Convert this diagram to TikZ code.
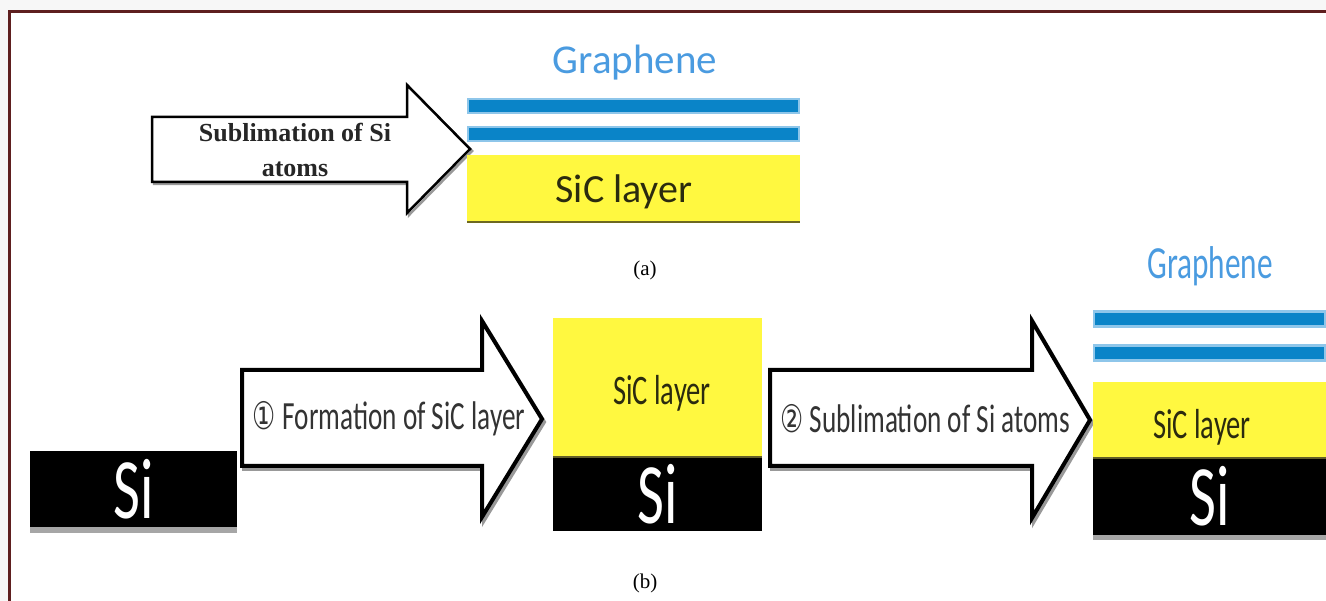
\documentclass[tikz,border=0pt]{standalone}
\usepackage{fontspec}
\setmainfont{Liberation Serif}
\newfontfamily\carlitofont{Carlito}
\newfontfamily\carlitocond[FakeStretch=0.68]{Carlito}
\newfontfamily\dejacond[FakeStretch=0.68]{DejaVu Sans}
\definecolor{frame}{HTML}{5E1F1F}
\definecolor{bluebar}{HTML}{0A84C8}
\definecolor{blueedge}{HTML}{8EC6EA}
\definecolor{bluetext}{HTML}{4A9BE0}
\definecolor{sicyellow}{HTML}{FFF840}
\definecolor{sictext}{HTML}{2B2B0F}
\definecolor{arrtext}{HTML}{333333}
\begin{document}
\begin{tikzpicture}[x=1pt,y=-1pt,
  layer/.style={inner sep=0pt, outer sep=0pt, anchor=center},
  sic/.style={layer, fill=sicyellow, text=sictext},
  sibox/.style={layer, fill=black, text=white},
  bar/.style={layer, fill=bluebar, draw=blueedge, line width=2.5pt},
  blockarrow/.style={draw=black, fill=white, line join=miter},
  arrshadow/.style={draw=black!40, line join=miter},
  lbl/.style={inner sep=0pt, align=center}]
\useasboundingbox (0,0) rectangle (1326,601);
\fill[black!3] (0,0) rectangle (1326,601);
\fill[white] (9.5,11.5) rectangle (1326,601);
\draw[frame, line width=3pt] (1330,11.5) -- (9.5,11.5) -- (9.5,605);

% ---------- (a) ----------
\draw[arrshadow, line width=2.5pt, shift={(2,2)}] (152,117) -- (407,117) -- (407,85) -- (470,149) -- (407,213) -- (407,182) -- (152,182) -- cycle;
\draw[blockarrow, line width=2.5pt] (152,117) -- (407,117) -- (407,85) -- (470,149) -- (407,213) -- (407,182) -- (152,182) -- cycle;
\node[lbl, text=black!85, font=\bfseries\fontsize{26}{35}\selectfont] (txtA) at (295,150) {Sublimation of Si\\atoms};

\node[lbl, text=bluetext, font=\carlitofont\fontsize{41}{41}\selectfont] (grA) at (635,63) {Graphene};
\node[bar, minimum width=331pt, minimum height=14pt] (barA1) at (633.5,106) {};
\node[bar, minimum width=331pt, minimum height=14pt] (barA2) at (633.5,134) {};
\node[sic, minimum width=333pt, minimum height=67pt] (sicA) at (633.5,188.5) {};
\node[lbl, text=sictext, font=\carlitofont\fontsize{40}{40}\selectfont] (sicAtxt) at (624,192) {SiC layer};
\draw[olive!70!black, line width=1.5pt] (sicA.south west) -- (sicA.south east);
\node[lbl, font=\fontsize{21}{21}\selectfont] (capA) at (645,270) {(a)};

% ---------- (b) ----------
\fill[black!35] (30,527) rectangle (237,533);
\node[sibox, minimum width=207pt, minimum height=76pt, font=\carlitocond\fontsize{86}{86}\selectfont] (si1) at (133.5,489) {Si};

\draw[arrshadow, line width=4pt, shift={(2,3)}] (242,370) -- (482,370) -- (482,321) -- (542,419) -- (482,517) -- (482,466) -- (242,466) -- cycle;
\draw[blockarrow, line width=4pt] (242,370) -- (482,370) -- (482,321) -- (542,419) -- (482,517) -- (482,466) -- (242,466) -- cycle;
\node[lbl, text=arrtext, font=\carlitocond\fontsize{40}{40}\selectfont] (txt1) at (389,419) {{\dejacond\fontsize{38}{38}\selectfont ①}\,Formation of SiC layer};

\node[sic, minimum width=209pt, minimum height=139pt] (sic2) at (657.5,387.5) {};
\node[lbl, text=sictext, font=\carlitocond\fontsize{42}{42}\selectfont] (sic2txt) at (662,393) {SiC layer};
\node[sibox, minimum width=209pt, minimum height=74pt, font=\carlitocond\fontsize{86}{86}\selectfont] (si2) at (657.5,494) {Si};
\draw[olive!60!black, line width=2pt] (si2.north west) -- (si2.north east);

\draw[arrshadow, line width=4pt, shift={(2,3)}] (770,370) -- (1032,370) -- (1032,321) -- (1090,420) -- (1032,518) -- (1032,466) -- (770,466) -- cycle;
\draw[blockarrow, line width=4pt] (770,370) -- (1032,370) -- (1032,321) -- (1090,420) -- (1032,518) -- (1032,466) -- (770,466) -- cycle;
\node[lbl, text=arrtext, font=\carlitocond\fontsize{40}{40}\selectfont] (txt2) at (925,419) {{\dejacond\fontsize{38}{38}\selectfont ②}\,Sublimation of Si atoms};

\node[lbl, text=bluetext, font=\carlitocond\fontsize{46}{46}\selectfont] (grB) at (1210,266) {Graphene};
\node[bar, minimum width=231pt, minimum height=15pt] (barB1) at (1209.5,319) {};
\node[bar, minimum width=231pt, minimum height=15pt] (barB2) at (1209.5,353) {};
\fill[black!35] (1093,535) rectangle (1326,540);
\node[sic, minimum width=233pt, minimum height=76pt] (sic3) at (1209.5,420) {};
\node[lbl, text=sictext, font=\carlitocond\fontsize{42}{42}\selectfont] (sic3txt) at (1202,427) {SiC layer};
\node[sibox, minimum width=233pt, minimum height=77pt, font=\carlitocond\fontsize{86}{86}\selectfont] (si3) at (1209.5,496.5) {Si};
\draw[olive!60!black, line width=2pt] (si3.north west) -- (si3.north east);

\node[lbl, font=\fontsize{21}{21}\selectfont] (capB) at (645,583) {(b)};
\end{tikzpicture}
\end{document}
